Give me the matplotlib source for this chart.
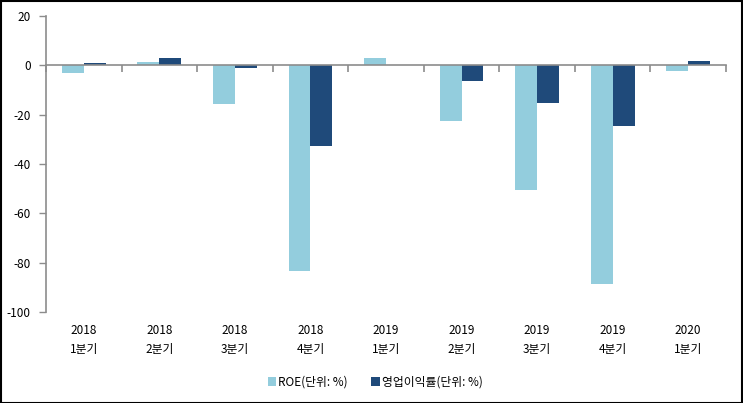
import matplotlib
matplotlib.use("Agg")
import matplotlib.pyplot as plt
import matplotlib.transforms as mtransforms
import numpy as np

plt.rcParams['font.family'] = ['Noto Sans CJK KR', 'DejaVu Sans']
plt.rcParams['axes.unicode_minus'] = False

years = ["2018", "2018", "2018", "2018", "2019", "2019", "2019", "2019", "2020"]
quarters = ["1분기", "2분기", "3분기", "4분기", "1분기", "2분기", "3분기", "4분기", "1분기"]
roe = [-3.1, 1.2, -15.8, -83.5, 3.0, -22.7, -50.7, -88.8, -2.4]
opm = [0.8, 2.9, -1.0, -32.8, 0.0, -6.4, -15.3, -24.7, 1.6]
series_names = ["ROE(단위: %)", "영업이익률(단위: %)"]
colors = ["#93CDDD", "#1F4A7A"]
yticks = [20, 0, -20, -40, -60, -80, -100]

fig = plt.figure(figsize=(7.43, 4.03), dpi=100)
ax = fig.add_axes([46/743, 1-312/403, (726-46)/743, (312-16)/403])

x = np.arange(len(years))
w = 0.29
b1 = ax.bar(x - w/2, roe, w, color=colors[0], label=series_names[0])
b2 = ax.bar(x + w/2, opm, w, color=colors[1], label=series_names[1])

ax.set_xlim(-0.5, len(years) - 0.5)
ax.set_ylim(-100, 20)
ax.set_yticks(yticks)
ax.set_yticklabels([str(v) for v in yticks], fontsize=8.5)

ax.spines['top'].set_visible(False)
ax.spines['right'].set_visible(False)
ax.spines['bottom'].set_position(('data', 0))
for s in ['left', 'bottom']:
    ax.spines[s].set_color('#8C8C8C')
    ax.spines[s].set_linewidth(1.2)
ax.set_xticks(np.arange(-0.5, len(years), 1.0))
ax.set_xticklabels([])
ax.tick_params(axis='x', direction='out', length=5, color='#8C8C8C', width=1.2)
ax.tick_params(axis='y', direction='out', length=5, color='#8C8C8C', width=1.0, pad=6)

trans = mtransforms.blended_transform_factory(ax.transData, fig.transFigure)
for i in range(len(years)):
    ax.text(x[i], 1-330/403, years[i], transform=trans, ha='center', va='center', fontsize=8.5)
    ax.text(x[i], 1-350/403, quarters[i], transform=trans, ha='center', va='center', fontsize=8.5)

leg = fig.legend(handles=[b1, b2], labels=series_names, loc='center', bbox_to_anchor=(0.505, 1-382/403),
                 ncol=2, frameon=False, fontsize=8.5, handlelength=0.7, handleheight=0.7,
                 handletextpad=0.2, columnspacing=2.0)

border = plt.Rectangle((0.001, 0.001), 0.997, 0.996, transform=fig.transFigure, fill=False,
                       edgecolor='black', linewidth=1.5)
fig.patches.append(border)

fig.savefig("out.png", dpi=100)
